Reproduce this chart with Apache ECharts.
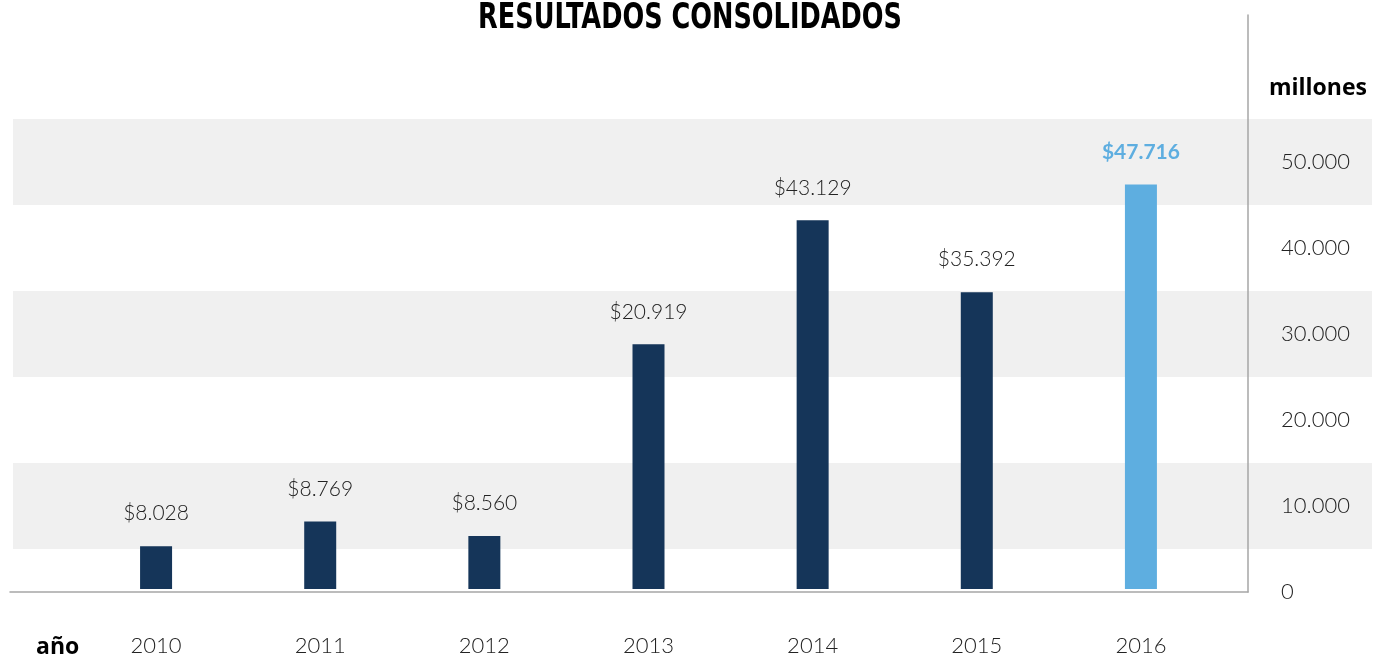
<!DOCTYPE html>
<html>
<head>
<meta charset="utf-8">
<title>Resultados consolidados</title>
<script src="https://cdn.jsdelivr.net/npm/echarts@6/dist/echarts.min.js"></script>
<style>
    html, body { margin: 0; padding: 0; background: #fff; }
    #main { width: 1377px; height: 657px; }
</style>
</head>
<body>
<div id="main"></div>
<script>
// datos
var years = ['2010', '2011', '2012', '2013', '2014', '2015', '2016'];
// altura de las barras (en la escala del eje derecho)
var barValues = [5000, 7900, 6200, 28600, 43100, 34700, 47300];
// texto de las etiquetas sobre las barras
var barLabels = ['$8.028', '$8.769', '$8.560', '$20.919', '$43.129', '$35.392', '$47.716'];
var yTicks = [0, 10000, 20000, 30000, 40000, 50000];
var highlightYear = '2016';

var navy = '#153559';
var blue = '#5eaee0';
var numFont = 'Lato';
var boldFont = '"Open Sans"';

function fmtMiles(v) {
    return String(v).replace(/\B(?=(\d{3})+(?!\d))/g, '.');
}

var myChart = echarts.init(document.getElementById('main'));

var option = {
    animation: false,
    title: [{
        text: 'millones',
        right: 5,
        top: 72,
        textStyle: { fontFamily: boldFont, fontWeight: 'bold', fontSize: 23, color: '#000' }
    }, {
        text: 'año',
        left: 31,
        top: 631,
        textStyle: { fontFamily: boldFont, fontWeight: 'bold', fontSize: 23, color: '#000' }
    }],
    // titulo principal, estrechado para parecerse a la fuente condensada
    graphic: [{
        type: 'text',
        x: 690,
        y: 19,
        scaleX: 0.79,
        style: {
            text: 'RESULTADOS CONSOLIDADOS',
            fontFamily: '"DejaVu Sans Condensed", "DejaVu Sans", sans-serif',
            fontWeight: 'bold',
            fontSize: 36,
            fill: '#000',
            align: 'center',
            verticalAlign: 'middle'
        }
    }],
    grid: [
        // franjas grises
        { left: 13, right: 5, top: 119, bottom: 22 },
        // marco de ejes
        { left: 10, right: 129, top: 15, bottom: 65 },
        // barras
        { left: 74, right: 154, top: 15, bottom: 65 }
    ],
    xAxis: [
        { gridIndex: 0, type: 'value', show: false },
        {
            gridIndex: 1, type: 'value', min: 0, max: 1,
            axisLine: { show: true, onZero: false, lineStyle: { color: '#a6a6a6', width: 1.5 } },
            axisTick: { show: false }, axisLabel: { show: false }, splitLine: { show: false }
        },
        {
            gridIndex: 2, type: 'category', data: years,
            axisLine: { show: false }, axisTick: { show: false },
            axisLabel: { margin: 46, fontFamily: numFont, fontWeight: 300, fontSize: 22, color: '#222' }
        }
    ],
    yAxis: [
        {
            gridIndex: 0, type: 'value', min: -5000, max: 55000, interval: 10000,
            axisLine: { show: false }, axisTick: { show: false }, axisLabel: { show: false },
            splitLine: { show: false },
            splitArea: { show: true, areaStyle: { color: ['rgba(255,255,255,0)', '#f0f0f0'] } }
        },
        {
            gridIndex: 1, type: 'value', position: 'right', min: 0, max: 67100, interval: 10000,
            axisLine: { show: true, onZero: false, lineStyle: { color: '#a6a6a6', width: 1.5 } },
            axisTick: { show: false }, splitLine: { show: false },
            axisLabel: {
                margin: 33, align: 'left',
                fontFamily: numFont, fontWeight: 300, fontSize: 22, color: '#222',
                formatter: function (v) {
                    return yTicks.indexOf(v) >= 0 ? fmtMiles(v) : '';
                }
            }
        },
        { gridIndex: 2, type: 'value', min: 0, max: 67100, show: false }
    ],
    series: [{
        type: 'bar',
        xAxisIndex: 2,
        yAxisIndex: 2,
        barWidth: 32,
        data: barValues.map(function (v, i) {
            var d = { value: v };
            if (years[i] === highlightYear) {
                d.itemStyle = { color: blue };
                d.label = { color: blue, fontWeight: 'bold' };
            }
            return d;
        }),
        itemStyle: { color: navy },
        label: {
            show: true,
            position: 'top',
            distance: 22,
            fontFamily: numFont,
            fontWeight: 300,
            fontSize: 21,
            color: '#222',
            formatter: function (p) { return barLabels[p.dataIndex]; }
        }
    }]
};

myChart.setOption(option);
</script>
</body>
</html>
